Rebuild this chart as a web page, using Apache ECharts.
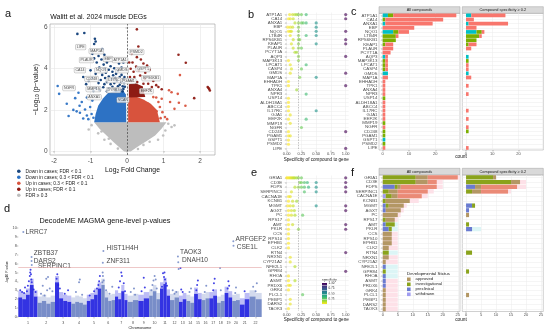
<!DOCTYPE html>
<html><head><meta charset="utf-8">
<script src="https://cdn.jsdelivr.net/npm/echarts@6/dist/echarts.min.js"></script>
<style>html,body{margin:0;padding:0;background:#fff}#chart{width:550px;height:333px}</style>
</head><body><div id="chart"></div>
<script>
// ================= DATA =================
// ---- Panel a: volcano (log2 fold change, -log10 p) ----
const volLegendNames = ['Down in cases; FDR < 0.1','Down in cases; 0.3 < FDR < 0.1','Up in cases; 0.3 < FDR < 0.1','Up in cases; FDR < 0.1','FDR \u2265 0.3'];
// outlines of the dense point clouds
const volGreyCloud = [[-0.08,-0.02],[0.1,-0.02],[0.3,0.22],[0.55,0.5],[0.77,0.76],[0.95,1.1],[1.08,1.4],[-0.9,1.4],[-0.76,1.1],[-0.56,0.76],[-0.38,0.45],[-0.22,0.2]];
const volBlueCloud = [[-0.9,1.4],[-0.86,1.8],[-0.79,2.2],[-0.66,2.55],[-0.52,2.82],[-0.32,2.92],[-0.1,2.92],[-0.03,2.75],[-0.02,1.4]];
const volRedCloud = [[0.03,1.4],[0.03,2.6],[0.22,2.66],[0.45,2.5],[0.65,2.3],[0.82,2.0],[0.9,1.4]];
const volDarkRedCloud = [[0.05,2.6],[0.05,3.25],[0.22,3.3],[0.42,3.15],[0.5,2.62]];
// individual points
const volDownSig = [[-1.36,5.69],[-1.17,5.73],[-0.88,5.45],[-0.86,5.32],[-0.9,5.2],[-0.95,4.72],[-0.9,4.5],[-0.78,4.62],[-0.83,4.3],[-0.7,4.45],[-0.64,4.2],[-0.76,4.05],[-0.6,4.0],[-0.55,4.3],[-0.5,3.95],[-0.45,4.12],[-0.4,3.85],[-0.35,4.02],[-0.3,3.75],[-0.25,3.9],[-0.2,3.6],[-0.15,3.7],[-0.1,3.5],[-0.08,3.3],[-0.12,3.15],[-0.2,3.22],[-0.28,3.4],[-0.35,3.3],[-0.42,3.5],[-0.5,3.62],[-0.55,3.35],[-0.6,3.55],[-0.68,3.7],[-0.72,3.45],[-0.78,3.3],[-0.65,3.1],[-0.5,3.05],[-0.4,3.12],[-0.3,3.0],[-0.18,2.98],[-0.1,3.02],[-0.06,3.12],[-0.86,3.75],[-0.95,3.55],[-1.05,3.4],[-1.0,3.92],[-0.62,4.68],[-0.58,3.8],[-0.15,4.05],[-0.22,4.25],[-0.1,4.3],[-0.32,3.55],[-0.45,3.25],[-0.25,3.15],[-0.15,3.35],[-0.07,3.6],[-0.38,3.68],[-0.62,3.25],[-0.85,3.05],[-0.92,2.92],[-0.75,2.95],[-0.55,2.9],[-0.3,2.92],[-0.12,2.9],[-1.12,3.25],[-1.2,3.6],[-0.68,4.95]];
const volDown = [[-1.9,3.16],[-1.86,2.78],[-1.65,2.3],[-1.42,2.57],[-1.33,2.83],[-1.38,1.93],[-1.29,1.86],[-1.15,2.02],[-1.1,1.73],[-1.24,2.38],[-1.01,2.14],[-0.97,1.8],[-1.06,1.55],[-1.2,1.58],[-1.47,2.0],[-0.95,2.45],[-1.1,2.6],[-0.92,1.62],[-1.6,1.7],[-1.3,2.2]];
const volUp = [[1.22,2.86],[1.39,2.78],[1.42,2.35],[1.18,2.38],[0.9,2.14],[0.97,1.89],[1.04,1.65],[0.81,1.93],[0.86,2.38],[0.68,2.05],[0.72,2.62],[0.58,2.3],[0.95,2.54],[1.45,3.69],[1.1,1.55],[0.92,1.6],[1.3,2.05],[0.8,2.6],[1.6,2.2],[1.15,2.95]];
const volUpSig = [[0.27,5.91],[0.31,5.08],[0.13,4.72],[0.27,4.56],[0.38,4.45],[0.15,4.3],[0.45,4.25],[0.25,4.1],[0.55,4.15],[0.1,4.0],[0.32,3.9],[0.5,3.8],[0.62,3.95],[0.36,3.67],[0.49,3.51],[0.58,3.27],[0.68,3.11],[0.86,3.11],[0.45,3.27],[0.2,3.6],[0.12,3.4],[0.72,3.4],[0.8,3.2],[0.62,3.0],[0.52,2.95],[0.08,3.6],[0.18,3.85],[0.06,4.3],[1.41,4.68],[1.61,4.29],[2.21,3.11],[2.25,3.02],[2.27,2.94],[2.23,3.06],[1.84,2.57],[0.95,3.0],[0.4,3.1],[0.28,3.35],[0.1,3.15]];
const volNS = [[1.13,1.33],[1.22,1.17],[0.99,0.76],[-0.97,1.26],[-0.79,0.86],[1.05,1.0],[-1.05,1.05],[0.62,0.45],[-0.45,0.35],[0.85,0.55],[-0.62,0.55],[1.3,1.25],[0.3,0.1],[-0.25,0.12],[0.7,0.9],[-0.7,0.95],[0.45,0.3],[-0.5,0.6]];
const volLabels = [['LIPE',-1.27,5.05],['MAP1A',-0.84,4.85],['PLAUR',-1.11,4.42],['EBP',-0.52,4.47],['ATP1A1',-0.19,4.42],['CA14',-1.29,3.93],['NQO1',-0.71,3.93],['GMDS',-0.14,3.93],['CD248',-0.97,3.5],['IL17RC',-0.37,3.45],['PGAM1',0.04,3.4],['NGFR',-1.59,3.06],['MMP19',-0.92,3.01],['DYRK3',-0.37,2.96],['ANXA1',-0.9,2.62],['VCAN',-0.11,2.48],['PSMD2',0.26,4.81],['GSPT1',0.44,3.98],['RPS6KB1',0.66,3.54],['EEF2K',0.53,2.91]];

// ---- Panels b & c: muscle DEG targets ----
const bGenes = ['ATP1A1','CA14','ANXA1','EBP','NQO1','LTB4R','RPS6KB1','KEAP1','PLAUR','PCYT1A','AQP3','MAP3K13','LPCAT1','CASP4','GMDS','MAP1A','EHHADH','TPK1','ANXA4','NPR3','USP14','ALDH18A1','ABCC4','IL17RC','GJA1','EEF2K','MMP19','NGFR','CD248','PGAM1','GSPT1','PSMD2','LIPE'];
const bSpec = [[0.05,0.1,0.14,0.17,0.2,0.25,0.33,1],[0.03,0.06,0.11,1],[0.14,0.2,0.25,0.28,0.33,0.5],[0.02,0.06,0.1,0.2,0.5],[0.03,0.06,0.08,0.2,0.5,1],[0.06,0.2,0.33,0.5],[0.11,0.2,0.22,1],[0.08,0.2,0.5,1],[0.11,0.2,0.25],[0.14,0.17],[0.2,1],[0.03,0.2],[0.06,0.33],[0.08,0.25],[0.06,1],[0.22,0.5],[0.03],[0.03,1],[0.17],[0.33],[0.03],[0.03],[0.03],[0.03,0.5],[0.06],[0.03,0.33],[0.06],[0.25],[0.03,1],[0.03,0.06],[0.03],[0.03],[1]];
const cAllApproved = [24,22,18,12,4,1,0,3,4,3,1,1,1,1,0,2,1,1,1,1,0,1,1,1,1,1,0,1,0,0,0,0,1];
const cAllInvest   = [2,1,0,0,2,5,5,1,0,0,0,1,1,1,0,0,0,0,0,0,1,0,0,0,0,0,1,0,1,1,0,1,0];
const cAllPreclin  = [2,0,1,0,4,0,0,0,0,0,1,0,0,0,2,0,0,0,0,0,0,0,0,0,0,0,0,0,0,0,1,0,0];
const cSpecApproved = [13,3,15,4,1,1,0,3,2,0,0,0,1,1,0,2,0,1,0,1,0,0,0,1,0,1,0,1,0,0,0,0,1];
const cSpecInvest   = [0,0,0,0,2,5,4,1,0,0,0,1,0,0,0,0,0,0,0,0,0,0,0,0,0,0,0,0,1,0,0,0,0];
const cSpecPreclin  = [2,0,1,0,4,0,0,0,0,0,1,0,0,0,1,0,0,0,0,0,0,0,0,0,0,0,0,0,0,0,0,0,0];

// ---- Panels e & f: DecodeME MAGMA targets ----
const eGenes = ['GRIA1','CD3E','FDPS','SERPINC1','CACNA1E','KCNB1','MGMT','AGXT','PC','RPS17','AMT','PKLR','CCS','RPS10','EPHB1','CLK2','RTN4','NRXN1','CYP21A2','NFE2L1','GPR84','RHOA','ASMT','PRDX6','GRK4','PLCL1','PEBP1','DARS2','TAOK3'];
const eSpec = [[0.0,0.02,0.04,0.06,0.08,0.1,0.12,0.14,0.17,0.2,0.25,1],[0.22,0.25,0.3,0.35,0.5,1],[0.14,0.2,0.25,0.3,0.37,0.5,1],[0.08,0.3,0.5,1],[0.03,0.06],[0.03,0.1,0.17],[0.02,0.06,0.11,0.5,1],[0.03,0.08,0.13,1],[0.03,0.08,0.14,0.27],[0.03],[0.03,0.1,1],[0.03,0.2,1],[0.03],[0.03],[0.03],[0.03],[1],[0.06],[0.06],[0.14],[1],[0.03],[0.03,0.14],[0.03,0.06],[0.03],[0.27],[0.06],[0.06],[0.03]];
const fAllWithdrawn = [0,0,0,0,1,0,0,0,0,0,0,0,0,0,0,0,0,0,0,0,0,0,0,0,0,0,0,0,0];
const fAllPreclin   = [0,0,4,0,0,0,1,1,0,0,1,2,0,0,0,0,0,0,0,1,0,1,1,1,0,0,0,0,0];
const fAllInvest    = [11,11,1,2,2,1,1,0,0,1,3,1,0,0,0,0,2,0,0,0,1,0,0,0,0,0,0,0,0];
const fAllApproved  = [4,4,1,3,2,8,5,5,5,3,0,0,3,3,3,2,0,2,1,0,0,0,0,0,1,1,1,1,1];
const fAllOther     = [10,3,12,10,8,0,0,0,0,0,0,0,0,0,0,0,0,0,0,0,0,0,0,0,0,0,0,0,0];
const fAllBgApproved = [26,20,20,17,15,12,8,7,6,5,0,0,5,5,5,5,0,5,5,0,0,0,5,5,5,5,5,5,5];
const fAllBgPreclin  = [0,0,0,0,0,0,0,0,0,0,5,5,0,0,0,0,5,0,0,5,5,5,0,0,0,0,0,0,0];
const fSpecPreclin  = [0,0,3,0,0,0,2,1,0,0,0,2,0,0,0,0,0,0,0,0,0,0,0,0,0,0,0,0,0];
const fSpecInvest   = [9,15,0,2,0,0,1,0,0,0,1,0,0,0,0,0,2,0,0,0,1,0,0,0,0,0,0,0,0];
const fSpecApproved = [1,3,2,3,0,0,0,0,1,0,0,0,0,0,0,0,0,0,0,0,0,0,0,0,0,1,0,0,0];
const fSpecOther    = [0,0,12,9,0,0,0,0,0,0,0,0,0,0,0,0,0,0,0,0,0,0,0,0,0,0,0,0,0];
const fSpecBgApproved = [0,20,20,15,0,0,0,0,0,0,0,0,0,0,0,0,0,0,0,0,0,0,0,0,0,0,0,0,0];
const fSpecBgPreclin  = [0,0,0,0,0,0,3,0,0,0,0,5,0,0,0,0,0,0,0,0,0,0,0,0,0,0,0,0,0];
const devStatus = ['approved','investigational','preclinical','withdrawn'];

// ---- Panel d: Manhattan ----
const dChrWidth = [19.2,17.5,16.3,15.5,14.5,13.7,12.5,10.8,10.9,10.8,10,9,7.4,7.7,7.6,7.6,7.7,7.6,7.6,7.6,9.7,12.2];
const dDense = [[2.2,2.0,2.5,3.6,2.3],[1.6,1.8,1.5,1.7],[3.9,2.1,1.8,1.7],[1.5,1.7,1.6,1.4],[1.8,2.0,2.5,3.2],[3.6,2.2,1.8,1.9],[2.3,2.0,2.9,1.9],[1.7,1.9],[1.8,2.1],[2.4,2.9,2.0],[3.2,3.7,2.4],[1.9,2.2],[1.7,2.0],[1.8,1.6],[2.6,2.0],[1.9,2.1],[2.1,2.4],[1.6,1.8],[2.7,2.2],[1.8,1.9],[1.4,2.0],[2.3,2.0]];
const dScatter = [[1,0.1,3.0],[1,0.2,2.8],[1,0.35,3.3],[1,0.5,3.5],[1,0.55,4.0],[1,0.6,4.6],[1,0.62,5.0],[1,0.64,5.3],[1,0.66,4.8],[1,0.68,4.2],[1,0.3,2.7],[1,0.8,3.1],[1,0.9,2.8],[1,0.45,2.9],[1,0.7,3.9],
 [2,0.3,3.5],[2,0.5,4.3],[2,0.6,4.5],[2,0.7,3.2],[2,0.2,2.6],[2,0.85,2.9],[2,0.4,2.4],[2,0.55,3.0],
 [3,0.1,4.3],[3,0.14,4.8],[3,0.3,3.2],[3,0.6,2.6],[3,0.8,3.0],[3,0.2,3.6],
 [4,0.3,2.8],[4,0.5,3.9],[4,0.55,4.2],[4,0.7,2.5],
 [5,0.5,2.9],[5,0.8,3.6],[5,0.85,4.0],[5,0.9,4.6],[5,0.2,2.4],[5,0.7,3.2],
 [6,0.1,5.0],[6,0.12,4.6],[6,0.17,4.1],[6,0.08,3.9],[6,0.35,3.0],[6,0.6,2.6],[6,0.8,3.4],
 [7,0.5,5.0],[7,0.55,4.6],[7,0.3,3.3],[7,0.7,3.8],[7,0.8,2.9],[7,0.4,4.0],
 [8,0.3,2.8],[8,0.6,3.2],[8,0.7,2.5],
 [9,0.3,2.9],[9,0.6,3.3],[9,0.5,4.4],
 [10,0.3,3.6],[10,0.4,4.1],[10,0.5,4.6],[10,0.6,4.2],[10,0.7,3.2],[10,0.2,3.0],
 [11,0.3,4.9],[11,0.4,4.5],[11,0.45,5.0],[11,0.5,4.2],[11,0.6,3.8],[11,0.7,3.5],[11,0.2,3.4],
 [12,0.3,3.0],[12,0.5,2.6],[12,0.7,2.8],[12,0.96,5.4],
 [13,0.2,5.5],[13,0.5,2.8],[13,0.3,3.1],
 [14,0.4,2.8],[14,0.6,3.2],
 [15,0.4,3.6],[15,0.5,4.1],[15,0.3,3.0],
 [16,0.4,2.8],[16,0.6,3.5],
 [17,0.5,3.0],[17,0.6,3.8],[17,0.7,4.3],
 [18,0.4,5.5],[18,0.5,3.0],
 [19,0.4,3.2],[19,0.5,4.0],[19,0.6,3.5],
 [20,0.5,3.3],[20,0.4,2.7],
 [21,0.5,2.9],
 [22,0.3,3.4],[22,0.5,2.9],[22,0.6,3.8]];
const dLabels = [['LRRC7',1,0.26,9.55],['ZBTB37',1,0.69,6.75],['DARS2',1,0.69,6.3],['SERPINC1',1,0.7,5.85],['HIST1H4H',6,0.15,7.4],['ZNF311',6,0.11,6.1],['TAOK3',12,0.88,6.8],['DNAH10',12,0.92,6.15],['ARFGEF2',20,0.15,8.5],['CSE1L',20,0.17,8.0]];
const dThreshold = 5.6;
const dYTicks = [0,1,2,3,4,5,6,7,8,9,10];

// ================= LAYOUT / STYLE =================
const FF = '"Liberation Sans", Arial, Helvetica, sans-serif';
const AXT = '#4d4d4d', GL = '#ebebeb';
const volCol = ['#0f3d78','#2d72c4','#d8533d','#8e1b14','#bdbdbd'];
const cCol = {approved:'#F8766D', investigational:'#7CAE00', preclinical:'#00BFC4', withdrawn:'#C77CFF'};
const fCol = {approved:'#b39764', investigational:'#8aa31c', preclinical:'#6a7bd0', withdrawn:'#a09cf0', other:'#ea8a76', bgA:'#fde1e8', bgP:'#dcf5f6'};
const viridis = ['#440154','#482878','#3e4989','#31688e','#26828e','#1f9e89','#35b779','#6ece58','#b5de2b','#fde725'];
const D_ODD = '#2222e0', D_EVEN = '#6c83c3';

const chrStart = []; let acc = 0;
dChrWidth.forEach(w => { chrStart.push(acc); acc += w; });
const dTotal = acc;
const chrCenter = dChrWidth.map((w,i) => +(chrStart[i] + w/2).toFixed(3));
const dx = (chr, rel) => chrStart[chr-1] + rel*dChrWidth[chr-1];

function valAxis(gi, min, max, ticks, fmt, labelSize, extra) {
  const a = {
    type:'value', gridIndex:gi, min:min, max:max,
    axisLine:{show:false},
    axisTick:{show:true, customValues:ticks, length:1.5, lineStyle:{color:'#555', width:0.4}},
    axisLabel:{show:true, customValues:ticks, fontSize:labelSize||4, color:AXT, fontFamily:FF, margin:1.5, formatter:fmt},
    splitLine:{show:true, lineStyle:{color:GL, width:0.5}}
  };
  return Object.assign(a, extra||{});
}
function catAxis(gi, data, show) {
  return {type:'category', gridIndex:gi, data:data, inverse:true,
    axisLine:{show:false},
    axisTick:{show:show, alignWithLabel:true, interval:0, length:1.5, lineStyle:{color:'#555', width:0.4}},
    axisLabel:{show:show, interval:0, fontSize:4.4, color:AXT, fontFamily:FF, margin:1.5},
    splitLine:{show:true, interval:0, alignWithLabel:true, lineStyle:{color:GL, width:0.5}}};
}

const grids = [
  {left:50, top:24, width:165, height:131, show:true, borderColor:'#9a9a9a', borderWidth:0.6},
  {left:283.75, top:12.5, width:64.9, height:138},
  {left:379, top:13.3, width:81, height:136.7, show:true, borderColor:'#a0a0a0', borderWidth:0.5},
  {left:462.3, top:13.3, width:81, height:136.7, show:true, borderColor:'#a0a0a0', borderWidth:0.5},
  {left:18.3, top:225.3, width:243.4, height:93.9},
  {left:283.75, top:175.5, width:64.9, height:135.5},
  {left:379, top:175, width:81, height:136.5, show:true, borderColor:'#a0a0a0', borderWidth:0.5},
  {left:462.3, top:175, width:81, height:136.5, show:true, borderColor:'#a0a0a0', borderWidth:0.5}
];
const f2 = v => v.toFixed(2);
const xAxes = [
  valAxis(0, -2.11, 2.41, [-2,-1,0,1,2], null, 6.5, {name:'{n|Log}{s|2}{n| Fold Change}', nameLocation:'middle', nameGap:10,
     nameTextStyle:{fontFamily:FF, color:'#111', rich:{n:{fontSize:6.8, fontFamily:FF, lineHeight:8, verticalAlign:'middle'}, s:{fontSize:4.8, fontFamily:FF, lineHeight:8, verticalAlign:'bottom', padding:[3,0,0,0]}}}}),
  valAxis(1, -0.05, 1.05, [0,0.25,0.5,0.75,1], f2, 4, {name:'Specificity of compound to gene', nameLocation:'middle', nameGap:6, nameTextStyle:{fontSize:4.6, fontFamily:FF, color:'#111'}}),
  valAxis(2, -1.4, 29.4, [0,10,20], null, 4),
  valAxis(3, -1.4, 29.4, [0,10,20], null, 4),
  valAxis(4, 0, dTotal, chrCenter, v => { const i = chrCenter.findIndex(c => Math.abs(c - v) < 0.01); return i < 0 ? '' : String(i+1); }, 3.6,
     {splitLine:{show:false}, name:'Chromosome', nameLocation:'middle', nameGap:5, nameTextStyle:{fontSize:3.8, fontFamily:FF, color:'#222'}}),
  valAxis(5, -0.05, 1.05, [0,0.25,0.5,0.75,1], f2, 4, {name:'Specificity of compound to gene', nameLocation:'middle', nameGap:6, nameTextStyle:{fontSize:4.6, fontFamily:FF, color:'#111'}}),
  valAxis(6, -1.25, 25.75, [0,5,10,15,20,25], null, 4),
  valAxis(7, -1.25, 25.75, [0,5,10,15,20,25], null, 4)
];
const yAxes = [
  valAxis(0, -0.19, 6.17, [0,2,4,6], null, 6.5, {name:'{n|\u2212Log}{s|10}{n| (p\u2212value)}', nameLocation:'middle', nameGap:9, nameRotate:90,
     nameTextStyle:{fontFamily:FF, color:'#111', rich:{n:{fontSize:6.8, fontFamily:FF, lineHeight:8, verticalAlign:'middle'}, s:{fontSize:4.8, fontFamily:FF, lineHeight:8, verticalAlign:'bottom', padding:[3,0,0,0]}}}}),
  catAxis(1, bGenes, true),
  catAxis(2, bGenes, true),
  catAxis(3, bGenes, false),
  valAxis(4, -0.25, 10.3, dYTicks, null, 3.8, {splitLine:{show:false}, name:'-log10 P-value', nameLocation:'middle', nameGap:8, nameRotate:90, nameTextStyle:{fontSize:3.4, fontFamily:FF, color:'#222'}}),
  catAxis(5, eGenes, true),
  catAxis(6, eGenes, true),
  catAxis(7, eGenes, false)
];
xAxes[0].axisLabel.margin = 3; yAxes[0].axisLabel.margin = 2.5;
xAxes[0].splitLine.lineStyle = {color:'#e6e6e6', width:0.6}; yAxes[0].splitLine.lineStyle = {color:'#e6e6e6', width:0.6};

// ================= SERIES =================
const series = [];
const add = s => { series.push(s); return series.length - 1; };

function cloud(name, poly, color) {
  return {type:'custom', name:name, xAxisIndex:0, yAxisIndex:0, silent:true, z:1,
    data:[poly[0]],
    renderItem: (params, api) => ({type:'polygon', shape:{points: poly.map(p => api.coord(p))}, style:{fill:color}})};
}
function pts(name, data, color, size) {
  return {type:'scatter', name:name, xAxisIndex:0, yAxisIndex:0, data:data, symbolSize:size||2.6, itemStyle:{color:color, opacity:0.95}, z:3, silent:true};
}
add(cloud(volLegendNames[4], volGreyCloud, volCol[4]));
add(cloud(volLegendNames[1], volBlueCloud, volCol[1]));
add(cloud(volLegendNames[2], volRedCloud, volCol[2]));
add(cloud(volLegendNames[3], volDarkRedCloud, volCol[3]));
add(Object.assign(pts(volLegendNames[4], volNS, volCol[4]), {
  markLine:{silent:true, symbol:'none', label:{show:false}, lineStyle:{type:[2,1.5], color:'#444', width:0.7}, data:[{xAxis:0}]}}));
add(pts(volLegendNames[1], volDown, volCol[1]));
add(pts(volLegendNames[0], volDownSig, volCol[0]));
add(pts(volLegendNames[2], volUp, volCol[2]));
add(pts(volLegendNames[3], volUpSig, volCol[3]));
add({type:'scatter', xAxisIndex:0, yAxisIndex:0, silent:true, z:6, symbolSize:0.1, itemStyle:{color:'rgba(0,0,0,0)'},
  data: volLabels.map(l => ({name:l[0], value:[l[1], l[2]]})),
  label:{show:true, position:'inside', formatter:'{b}', fontSize:3.6, fontFamily:FF, color:'#222', backgroundColor:'#f4f4f4', borderColor:'#8a8a8a', borderWidth:0.4, borderRadius:0.8, padding:[0.8,1.1,0.4,1.1]}});

// b and e specificity dots
function specData(genes, spec) { const out = []; genes.forEach((g,i) => spec[i].forEach(s => out.push([s, g]))); return out; }
const thrLine = {silent:true, symbol:'none', label:{show:false}, lineStyle:{type:[1.5,1.2], color:'#9a9a9a', width:0.6}, data:[{xAxis:0.2}]};
const iB = add({type:'scatter', xAxisIndex:1, yAxisIndex:1, data:specData(bGenes, bSpec), symbolSize:3.2, itemStyle:{opacity:0.62}, silent:true, markLine:thrLine});
const iE = add({type:'scatter', xAxisIndex:5, yAxisIndex:5, data:specData(eGenes, eSpec), symbolSize:3.2, itemStyle:{opacity:0.62}, silent:true, markLine:thrLine});

// c bars
function bar(name, data, color, ax, stack, extra) {
  return Object.assign({type:'bar', name:name, xAxisIndex:ax, yAxisIndex:ax, data:data, stack:stack, barCategoryGap:'10%', itemStyle:{color:color}, silent:true}, extra||{});
}
add(bar('c all preclinical', cAllPreclin, cCol.preclinical, 2, 'c1'));
add(bar('c all investigational', cAllInvest, cCol.investigational, 2, 'c1'));
add(bar('c all approved', cAllApproved, cCol.approved, 2, 'c1'));
add(bar('c spec preclinical', cSpecPreclin, cCol.preclinical, 3, 'c2'));
add(bar('c spec investigational', cSpecInvest, cCol.investigational, 3, 'c2'));
add(bar('c spec approved', cSpecApproved, cCol.approved, 3, 'c2'));

// f bars (faint background layers + stacked status bars)
const ov = {barGap:'-100%'};
add(bar('bg approved all', fAllBgApproved, fCol.bgA, 6, 'fbgA', ov));
add(bar('bg preclinical all', fAllBgPreclin, fCol.bgP, 6, 'fbgP', ov));
add(bar('withdrawn', fAllWithdrawn, fCol.withdrawn, 6, 'f1', ov));
add(bar('preclinical', fAllPreclin, fCol.preclinical, 6, 'f1', ov));
add(bar('investigational', fAllInvest, fCol.investigational, 6, 'f1', ov));
add(bar('approved', fAllApproved, fCol.approved, 6, 'f1', ov));
add(bar('approved (other)', fAllOther, fCol.other, 6, 'f1', ov));
add(bar('bg approved spec', fSpecBgApproved, fCol.bgA, 7, 'fbgA2', ov));
add(bar('bg preclinical spec', fSpecBgPreclin, fCol.bgP, 7, 'fbgP2', ov));
add(bar('preclinical ', fSpecPreclin, fCol.preclinical, 7, 'f2', ov));
add(bar('investigational ', fSpecInvest, fCol.investigational, 7, 'f2', ov));
add(bar('approved ', fSpecApproved, fCol.approved, 7, 'f2', ov));
add(bar('approved (other) ', fSpecOther, fCol.other, 7, 'f2', ov));

// d Manhattan
const denseData = [];
dDense.forEach((prof, ci) => { const w = dChrWidth[ci] / prof.length;
  prof.forEach((h, j) => denseData.push([chrStart[ci] + j*w, h, chrStart[ci] + (j+1)*w, ci+1])); });
add({type:'custom', xAxisIndex:4, yAxisIndex:4, silent:true, z:1, data:denseData,
  renderItem: (params, api) => {
    const x0 = api.value(0), h = api.value(1), x1 = api.value(2), chr = api.value(3);
    const col = chr % 2 ? D_ODD : D_EVEN;
    const a = api.coord([x0, 0]), b = api.coord([x1, h]), c = api.coord([x1, h + 0.7]);
    return {type:'group', children:[
      {type:'rect', shape:{x:a[0], y:c[1], width:b[0]-a[0], height:b[1]-c[1]}, style:{fill:col, opacity:0.3}},
      {type:'rect', shape:{x:a[0], y:b[1], width:b[0]-a[0], height:a[1]-b[1]}, style:{fill:col, opacity:0.92}}]};
  }});
const chrColor = p => (p.data[2] % 2 ? D_ODD : D_EVEN);
add({type:'scatter', xAxisIndex:4, yAxisIndex:4, silent:true, z:3, symbolSize:2, itemStyle:{color:chrColor, opacity:0.85},
  data: dScatter.map(p => [dx(p[0], p[1]), p[2], p[0]]),
  markLine:{silent:true, symbol:'none', label:{show:false}, lineStyle:{type:'solid', color:'#e3a3a3', width:0.6}, data:[{yAxis:dThreshold}]}});
const dLabelShift = [[0,0],[0,-3.5],[0,0],[4,1],[1,-2.5],[1.5,-1.5],[0,-4],[1.5,-2.5],[0,-2.5],[1,1]];
add({type:'scatter', xAxisIndex:4, yAxisIndex:4, silent:true, z:4, symbolSize:2, itemStyle:{color:chrColor},
  data: dLabels.map((l,i) => ({name:l[0], value:[dx(l[1], l[2]), l[3], l[1]], label:{offset:dLabelShift[i]}})),
  label:{show:true, position:'right', distance:1.2, formatter:'{b}', fontSize:6.6, fontFamily:FF, color:'#111'}});

// ================= GRAPHIC =================
const txt = (x, y, s, size, opt) => ({type:'text', x:x, y:y, silent:true, style:Object.assign({text:s, fontSize:size, fontFamily:FF, fill:'#111', align:'left', verticalAlign:'middle'}, opt||{})});
const graphic = [
  txt(5, 14, 'a', 11), txt(248, 15, 'b', 11), txt(351, 12, 'c', 11), txt(4, 209, 'd', 11), txt(251, 173, 'e', 11), txt(351, 173, 'f', 11),
  txt(98.5, 16.7, 'Walitt et al. 2024 muscle DEGs', 7, {align:'center'}),
  txt(105, 221, 'DecodeME MAGMA gene-level p-values', 7.3, {align:'center'}),
  txt(461, 157, 'count', 4.8, {align:'center'}),
  txt(461, 319.5, 'count', 4.8, {align:'center'}),
  txt(407, 274, 'Developmental Status', 4.4),
  txt(322, 280, 'specificity', 3.4)
];
[[379,6.7,'All compounds'],[462.3,6.7,'Compound specificity \u2265 0.2'],[379,168.3,'All compounds'],[462.3,168.3,'Compound specificity \u2265 0.2']].forEach(s => {
  graphic.push({type:'rect', silent:true, shape:{x:s[0], y:s[1], width:81, height:6.6}, style:{fill:'#d9d9d9', stroke:'#a0a0a0', lineWidth:0.5}});
  graphic.push(txt(s[0]+40.5, s[1]+3.4, s[2], 3.9, {align:'center', fill:'#1a1a1a'}));
});
// colour bar of the specificity scale
const cbMin = 0.03, cbMax = 1, cbTop = 283, cbH = 21;
graphic.push({type:'rect', silent:true, shape:{x:322, y:cbTop, width:5, height:cbH},
  style:{fill:new echarts.graphic.LinearGradient(0,0,0,1, viridis.map((c,i) => ({offset:i/(viridis.length-1), color:c})))}});
[1,0.75,0.5,0.25].forEach(v => {
  const y = cbTop + (cbMax - v)/(cbMax - cbMin)*cbH;
  graphic.push(txt(328.5, y, v.toFixed(2), 3));
});

const option = {
  animation:false, backgroundColor:'#fff',
  textStyle:{fontFamily:FF},
  grid:grids, xAxis:xAxes, yAxis:yAxes, series:series, graphic:graphic,
  visualMap:[{type:'continuous', show:false, min:cbMin, max:cbMax, dimension:0, seriesIndex:[iB, iE], inRange:{color:viridis.slice().reverse()}}],
  legend:[
    {orient:'vertical', left:17, top:168.8, padding:0, itemWidth:3.6, itemHeight:3.6, itemGap:1, selectedMode:false, icon:'circle',
     textStyle:{fontSize:4.8, lineHeight:4, color:'#222', fontFamily:FF},
     data: volLegendNames.map((n,i) => ({name:n, itemStyle:{color:volCol[i]}}))},
    {orient:'vertical', left:407, top:277.3, padding:0, itemWidth:3.6, itemHeight:3.6, itemGap:1, selectedMode:false, icon:'rect',
     textStyle:{fontSize:4.2, lineHeight:4, color:'#222', fontFamily:FF},
     data: devStatus.map(n => ({name:n, itemStyle:{color:fCol[n]}}))}
  ]
};
const chart = echarts.init(document.getElementById('chart'), null, {renderer:'canvas', width:550, height:333});
chart.setOption(option);
</script></body></html>
